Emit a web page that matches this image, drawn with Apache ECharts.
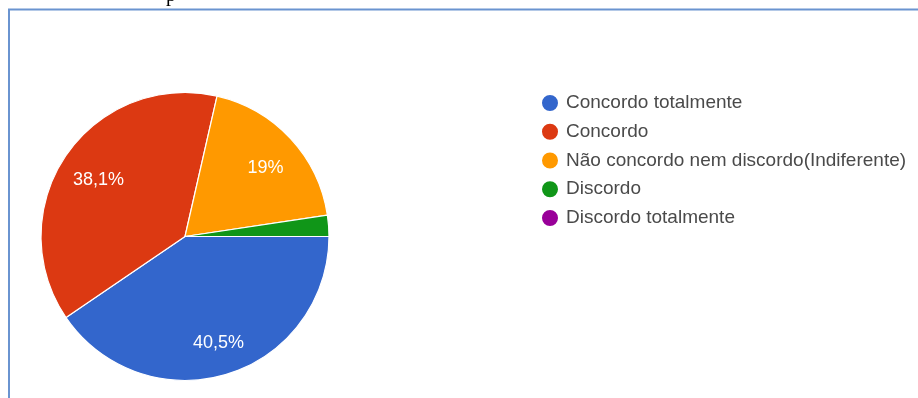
<!DOCTYPE html>
<html>
<head>
<meta charset="utf-8">
<script src="https://cdn.jsdelivr.net/npm/echarts@6/dist/echarts.min.js"></script>
<style>
  html, body { margin: 0; padding: 0; background: #ffffff; }
  #chart { width: 918px; height: 398px; }
</style>
</head>
<body>
<div id="chart"></div>
<script>
// Survey answers (response counts per option)
const categories = [
  'Concordo totalmente',
  'Concordo',
  'Não concordo nem discordo(Indiferente)',
  'Discordo',
  'Discordo totalmente'
];
const counts = [17, 16, 8, 1, 0];
const sliceColors = ['#3366cc', '#dc3912', '#ff9900', '#109618', '#990099'];

const total = counts.reduce((a, b) => a + b, 0);

// Percent label in pt-BR style: one decimal, comma separator, no trailing ",0"
function pctLabel(value) {
  const pct = value / total * 100;
  if (pct < 5) return '';
  let s = pct.toFixed(1).replace('.', ',');
  if (s.endsWith(',0')) s = s.slice(0, -2);
  return s + '%';
}

const pieData = categories.map((name, i) => ({
  name: name,
  value: counts[i],
  itemStyle: { color: sliceColors[i] }
}));

const labelData = categories.map((name, i) => ({
  name: name,
  value: counts[i]
}));

const chart = echarts.init(document.getElementById('chart'), null, { renderer: 'canvas' });

chart.setOption({
  backgroundColor: '#ffffff',
  animation: false,
  legend: {
    orient: 'vertical',
    left: 535,
    top: 88,
    itemWidth: 18,
    itemHeight: 18,
    itemGap: 8.75,
    icon: 'circle',
    selectedMode: false,
    textStyle: {
      fontFamily: 'Liberation Sans, Arial, sans-serif',
      fontSize: 19,
      lineHeight: 19,
      color: '#4a4a4a',
      padding: [0, 0, 0, 2]
    },
    data: categories.map((name, i) => ({
      name: name,
      icon: 'circle',
      itemStyle: { color: sliceColors[i] }
    }))
  },
  graphic: [
    // page frame
    {
      type: 'polyline',
      silent: true,
      shape: { points: [[9, 398], [9, 9.5], [918, 9.5]] },
      style: { stroke: '#6a94d0', lineWidth: 2, fill: null }
    },
    // tail of the text line above the frame
    {
      type: 'text',
      silent: true,
      left: 166,
      top: -14,
      style: {
        text: 'p',
        fontFamily: 'Liberation Serif, Times New Roman, serif',
        fontSize: 20,
        fill: '#000000'
      }
    }
  ],
  series: [
    {
      type: 'pie',
      center: [185, 236.5],
      radius: [0, 144],
      startAngle: 0,
      clockwise: true,
      avoidLabelOverlap: false,
      silent: true,
      label: { show: false },
      labelLine: { show: false },
      emphasis: { disabled: true },
      itemStyle: { borderColor: '#ffffff', borderWidth: 1.2 },
      data: pieData
    },
    {
      // label ring: places the percent text at ~0.72 of the radius
      type: 'pie',
      center: [185, 236.5],
      radius: [64, 144],
      startAngle: 0,
      clockwise: true,
      avoidLabelOverlap: false,
      silent: true,
      emphasis: { disabled: true },
      itemStyle: { color: 'rgba(0,0,0,0)', borderWidth: 0 },
      labelLine: { show: false },
      label: {
        show: true,
        position: 'inside',
        offset: [2, 4],
        formatter: p => pctLabel(p.value),
        color: '#ffffff',
        fontFamily: 'Liberation Sans, Arial, sans-serif',
        fontSize: 18
      },
      data: labelData
    }
  ]
});
</script>
</body>
</html>
